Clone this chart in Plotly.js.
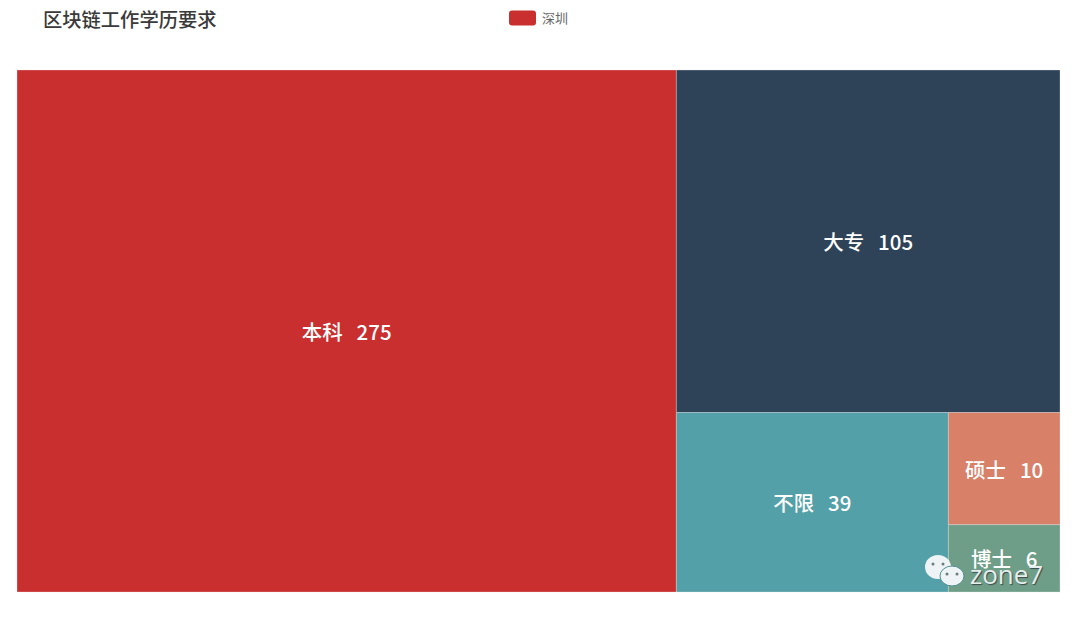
<!DOCTYPE html>
<html>
<head>
<meta charset="utf-8">
<script src="https://cdn.plot.ly/plotly-3.0.1.min.js"></script>
<style>html,body{margin:0;padding:0;background:#fff}#c{width:1080px;height:619px}</style>
</head>
<body>
<div id="c"></div>
<script>
var categories = ["本科", "大专", "不限", "硕士", "博士"];
var values = [275, 105, 39, 10, 6];
var colors = ["#ca2f2f", "#2e4358", "#54a0a8", "#d98069", "#6f9e88"];
var seriesName = "深圳";
var chartTitle = "区块链工作学历要求";
var watermark = "zone7";
var cjk = '"Noto Sans CJK SC", sans-serif';

// decoration helpers: pixel position on the page to paper fraction
function px(x) { return (x - 17) / 1043; }
function py(y) { return (592 - y) / 522; }
function ellipse(cx, cy, rx, ry, fill, lineColor) {
  return { type: "circle", xref: "paper", yref: "paper", layer: "above",
    x0: px(cx - rx), x1: px(cx + rx), y0: py(cy + ry), y1: py(cy - ry),
    fillcolor: fill, line: { width: lineColor ? 1 : 0, color: lineColor || fill } };
}
function swatch(x0, x1, y0, y1, r) {
  var p = "M" + px(x0 + r) + "," + py(y0) + " L" + px(x1 - r) + "," + py(y0) +
    " Q" + px(x1) + "," + py(y0) + " " + px(x1) + "," + py(y0 + r) +
    " L" + px(x1) + "," + py(y1 - r) +
    " Q" + px(x1) + "," + py(y1) + " " + px(x1 - r) + "," + py(y1) +
    " L" + px(x0 + r) + "," + py(y1) +
    " Q" + px(x0) + "," + py(y1) + " " + px(x0) + "," + py(y1 - r) +
    " L" + px(x0) + "," + py(y0 + r) +
    " Q" + px(x0) + "," + py(y0) + " " + px(x0 + r) + "," + py(y0) + " Z";
  return { type: "path", xref: "paper", yref: "paper", layer: "above", path: p,
    fillcolor: colors[0], line: { width: 0 } };
}

var trace = {
  type: "treemap",
  labels: categories,
  parents: categories.map(function () { return ""; }),
  values: values,
  sort: true,
  tiling: { packing: "squarify", pad: 0 },
  pathbar: { visible: false },
  marker: { colors: colors, line: { color: "#e8e8e8", width: 0.3 }, pad: { t: 0, l: 0, r: 0, b: 0 } },
  leaf: { opacity: 1 },
  texttemplate: "%{label}\u00a0\u00a0\u00a0%{value}",
  textposition: "middle center",
  textfont: { family: cjk, size: 20.5, color: "#ffffff", weight: 500 },
  hoverinfo: "label+value"
};

var layout = {
  width: 1080, height: 619,
  paper_bgcolor: "#ffffff",
  margin: { l: 17, r: 20, t: 70, b: 27, pad: 0 },
  title: { text: chartTitle, x: 43 / 1080, xanchor: "left", y: 1 - 20 / 619, yanchor: "middle",
           font: { family: cjk, size: 19.3, color: "#3a3a3a", weight: 500 } },
  shapes: [
    swatch(509, 536, 10.5, 25.5, 3),
    ellipse(938, 567, 13, 12, "#eef4f5"),
    ellipse(952, 576, 12, 10, "#eef4f5", "#4f8f92"),
    ellipse(933, 564, 1.5, 1.5, "#6b7b80"),
    ellipse(943, 564, 1.5, 1.5, "#6b7b80"),
    ellipse(947, 574, 1.5, 1.5, "#6b7b80"),
    ellipse(957, 574, 1.5, 1.5, "#6b7b80")
  ],
  annotations: [
    { xref: "paper", yref: "paper", x: px(540), y: py(17), xanchor: "left", yanchor: "middle",
      text: seriesName, showarrow: false, font: { family: cjk, size: 13, color: "#666666" } },
    { xref: "paper", yref: "paper", x: px(968), y: py(574), xanchor: "left", yanchor: "middle",
      text: watermark, showarrow: false,
      font: { family: '"Open Sans", sans-serif', size: 26, color: "#e6eeee", shadow: "1px 1px 1px #3a4a4a" } }
  ]
};

Plotly.newPlot("c", [trace], layout, { displayModeBar: false, staticPlot: true });
</script>
</body>
</html>
